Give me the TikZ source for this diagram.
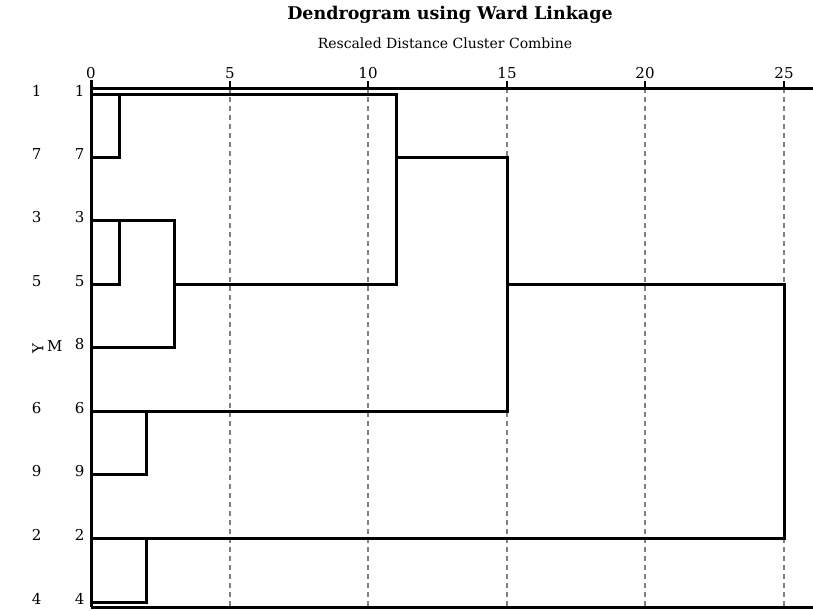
\documentclass[tikz,border=0pt]{standalone}
\usepackage{fontspec}
\setmainfont{DejaVu Serif}
\begin{document}
\begin{tikzpicture}[x=1pt,y=-1pt,
  tree/.style={line width=3pt,line cap=rect},
  axisline/.style={line width=3pt},
  grid/.style={gray,line width=1.1pt,dash pattern=on 5pt off 4pt},
  ticklab/.style={font=\fontsize{15}{15}\selectfont,anchor=base},
  rowlab/.style={font=\fontsize{15}{15}\selectfont,anchor=mid east}]
\useasboundingbox (0,0) rectangle (813,610);
% title
\node[font=\bfseries\fontsize{17.5}{17.5}\selectfont] (title) at (450,15) {Dendrogram using Ward Linkage};
\node[font=\fontsize{14}{14}\selectfont] (subtitle) at (445,43) {Rescaled Distance Cluster Combine};
% rescaled axis: 0 at x=91, 27.72 px per unit
\foreach \v/\px in {0/91,5/230,10/368,15/507,20/645,25/784}{
  \node[ticklab] (t\v) at (\px,78) {\v};
}
\foreach \px in {230,368,507,645,784}{
  \draw[grid] (\px,88) -- (\px,606);
  \draw[line width=2.2pt] (\px,81) -- (\px,88);
}
\draw[axisline] (91,88) -- (813,88);
\draw[axisline] (91,607) -- (813,607);
\draw[axisline] (91,80) -- (91,607);
% row labels
\foreach \r/\py in {1/94,7/157,3/220,5/284,8/347,6/411,9/474,2/538,4/602}{
  \node[rowlab] (n\r) at (88,\py) {\r};
}
\foreach \r/\py in {1/94,7/157,3/220,5/284,6/411,9/474,2/538,4/602}{
  \node[rowlab] (c\r) at (45,\py) {\r};
}
\node[rowlab] (m) at (66,349) {M};
\node[font=\fontsize{15}{15}\selectfont,rotate=90] (y) at (38,349) {Y};
% leaves and merges
\foreach \r/\py in {1/94,7/157,3/220,5/284,8/347,6/411,9/474,2/538,4/602}{
  \coordinate (l\r) at (91,\py);
}
\coordinate (a17) at (119,125);
\coordinate (a35) at (119,252);
\coordinate (a358) at (174,284);
\coordinate (a1358) at (396,157);
\coordinate (a69) at (146,442);
\coordinate (a24) at (146,570);
\coordinate (aall) at (507,284);
\coordinate (root) at (784,411);
% 1 + 7 at 1
\draw[tree] (l1) -- (a17 |- l1) (l7) -| (a17) -- (a17 |- l1);
% 3 + 5 at 1
\draw[tree] (l5) -| (a35) -- (a35 |- l3);
% (3,5) + 8 at 3
\draw[tree] (l3) -| (a358) (l8) -| (a358);
% (1,7) + (3,5,8) at 11.1
\draw[tree] (l1) -| (a1358) (a358) -| (a1358);
% 6 + 9 at 2
\draw[tree] (l9) -| (a69) -- (a69 |- l6);
% everything above + (6,9) at 15
\draw[tree] (a1358) -| (aall) (l6) -| (aall);
% 2 + 4 at 2
\draw[tree] (l4) -| (a24) -- (a24 |- l2);
% root at 25
\draw[tree] (aall) -| (root) (l2) -| (root);
\end{tikzpicture}
\end{document}
